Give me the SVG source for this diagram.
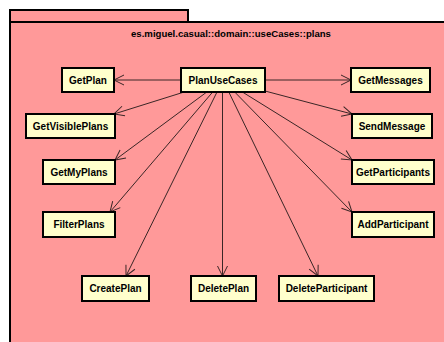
<svg xmlns="http://www.w3.org/2000/svg" width="444" height="342" viewBox="0 0 444 342">
  <defs>
    <style>
      .pkg { fill: #ff9999; stroke: #000; stroke-width: 2; }
      .node rect { fill: #ffffcc; stroke: #000; stroke-width: 2; }
      .node text { font-family: "Liberation Sans", Arial, sans-serif; font-size: 10px; font-weight: bold; fill: #000; text-anchor: middle; }
      .title { font-family: "Liberation Sans", Arial, sans-serif; font-size: 9.6px; font-weight: bold; fill: #000; text-anchor: middle; }
      .dep { stroke: #3a2626; stroke-width: 1; fill: none; marker-end: url(#open); }
    </style>
    <marker id="open" viewBox="0 0 12 12" refX="11" refY="6" markerWidth="12" markerHeight="12" markerUnits="userSpaceOnUse" orient="auto">
      <path d="M1,1 L11,6 L1,11" fill="none" stroke="#3a2626" stroke-width="1"/>
    </marker>
  </defs>

  <rect width="444" height="342" fill="#ffffff"/>

  <!-- package frame -->
  <g id="package">
    <rect class="pkg" x="10" y="10" width="178" height="12"/>
    <rect class="pkg" x="10" y="22" width="440" height="330"/>
    <text class="title" x="231" y="37">es.miguel.casual::domain::useCases::plans</text>
  </g>

  <!-- dependencies from PlanUseCases -->
  <g id="connectors">
    <line class="dep" x1="181" y1="80" x2="114" y2="80"/>
    <line class="dep" x1="265" y1="80" x2="351" y2="80"/>
    <line class="dep" x1="184.2" y1="92" x2="114" y2="114"/>
    <line class="dep" x1="265" y1="91" x2="352" y2="114"/>
    <line class="dep" x1="206.8" y1="92" x2="115" y2="160"/>
    <line class="dep" x1="242.4" y1="92" x2="352" y2="160"/>
    <line class="dep" x1="212.7" y1="92" x2="110" y2="212"/>
    <line class="dep" x1="234.7" y1="92" x2="352" y2="212"/>
    <line class="dep" x1="217" y1="92" x2="126" y2="276"/>
    <line class="dep" x1="222.5" y1="92" x2="222.5" y2="276"/>
    <line class="dep" x1="228.8" y1="92" x2="318" y2="276"/>
  </g>

  <g id="PlanUseCases" class="node">
    <rect x="181" y="68" width="84" height="24"/>
    <text x="223" y="83.5">PlanUseCases</text>
  </g>
  <g id="GetPlan" class="node">
    <rect x="62" y="68" width="52" height="24"/>
    <text x="88" y="83.5">GetPlan</text>
  </g>
  <g id="GetMessages" class="node">
    <rect x="351" y="68" width="79" height="24"/>
    <text x="390.5" y="83.5">GetMessages</text>
  </g>
  <g id="GetVisiblePlans" class="node">
    <rect x="26" y="114" width="89" height="24"/>
    <text x="70.5" y="129.5">GetVisiblePlans</text>
  </g>
  <g id="SendMessage" class="node">
    <rect x="352" y="114" width="80" height="24"/>
    <text x="392" y="129.5">SendMessage</text>
  </g>
  <g id="GetMyPlans" class="node">
    <rect x="43" y="160" width="72" height="24"/>
    <text x="79" y="175.5">GetMyPlans</text>
  </g>
  <g id="GetParticipants" class="node">
    <rect x="352" y="160" width="82" height="24"/>
    <text x="393" y="175.5">GetParticipants</text>
  </g>
  <g id="FilterPlans" class="node">
    <rect x="43" y="212" width="72" height="25"/>
    <text x="79" y="228">FilterPlans</text>
  </g>
  <g id="AddParticipant" class="node">
    <rect x="352" y="212" width="82" height="25"/>
    <text x="393" y="228">AddParticipant</text>
  </g>
  <g id="CreatePlan" class="node">
    <rect x="82" y="276" width="67" height="25"/>
    <text x="115.5" y="292">CreatePlan</text>
  </g>
  <g id="DeletePlan" class="node">
    <rect x="191" y="276" width="65" height="25"/>
    <text x="223.5" y="292">DeletePlan</text>
  </g>
  <g id="DeleteParticipant" class="node">
    <rect x="279" y="276" width="95" height="25"/>
    <text x="326.5" y="292">DeleteParticipant</text>
  </g>
</svg>
